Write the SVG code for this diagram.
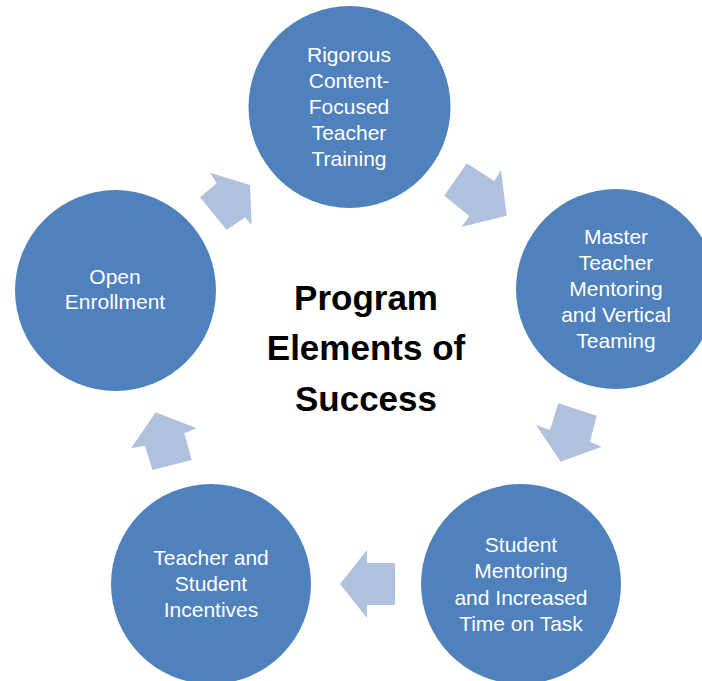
<svg xmlns="http://www.w3.org/2000/svg" width="702" height="681" viewBox="0 0 702 681">
<style>
.node circle{fill:#4F81BD;}
.node text{font-family:"Liberation Sans",Arial,sans-serif;font-size:21px;fill:#FFFFFF;text-anchor:middle;}
.arrow{fill:#B0C1DD;}
.title{font-family:"Liberation Sans",Arial,sans-serif;font-size:35px;font-weight:bold;fill:#000000;text-anchor:middle;}
</style>
<rect width="702" height="681" fill="#FFFFFF"/>
<g id="connectors">
<polygon class="arrow" points="200,197.3 216.7,183.3 210,172.7 250,185 251.7,225 245,217.3 226.7,230"/>
<polygon class="arrow" points="466.7,163.3 494.3,181 501,170 506.7,215.7 461.7,226.7 469.3,216 444.3,195.7"/>
<polygon class="arrow" points="558.3,403.3 596.7,415.7 590,441.7 601.7,446.7 560.7,461.7 536,425 550,430"/>
<polygon class="arrow" points="395,563 367,563 367,550 340,584 367,618 367,605 395,605"/>
<polygon class="arrow" points="155.7,412.3 196.7,428.3 184.3,433.3 191.7,460 152.3,470 145,445.7 131,448.3"/>
</g>
<g id="node-training" class="node">
<circle cx="349.5" cy="107" r="101"/>
<text x="349" y="62">Rigorous</text>
<text x="349" y="88">Content-</text>
<text x="349" y="114">Focused</text>
<text x="349" y="140">Teacher</text>
<text x="349" y="166">Training</text>
</g>
<g id="node-mentoring" class="node">
<circle cx="616" cy="289" r="100"/>
<text x="616" y="244">Master</text>
<text x="616" y="270">Teacher</text>
<text x="616" y="296">Mentoring</text>
<text x="616" y="322">and Vertical</text>
<text x="616" y="348">Teaming</text>
</g>
<g id="node-student" class="node">
<circle cx="521" cy="584" r="100"/>
<text x="521" y="552">Student</text>
<text x="521" y="578">Mentoring</text>
<text x="521" y="605">and Increased</text>
<text x="521" y="631">Time on Task</text>
</g>
<g id="node-incentives" class="node">
<circle cx="211" cy="584" r="100"/>
<text x="211" y="565">Teacher and</text>
<text x="211" y="591">Student</text>
<text x="211" y="617">Incentives</text>
</g>
<g id="node-enrollment" class="node">
<circle cx="115.5" cy="290.5" r="100.5"/>
<text x="115" y="284">Open</text>
<text x="115" y="309">Enrollment</text>
</g>
<g id="center-title">
<text class="title" x="366" y="310">Program</text>
<text class="title" x="366" y="360">Elements of</text>
<text class="title" x="366" y="411">Success</text>
</g>
</svg>
